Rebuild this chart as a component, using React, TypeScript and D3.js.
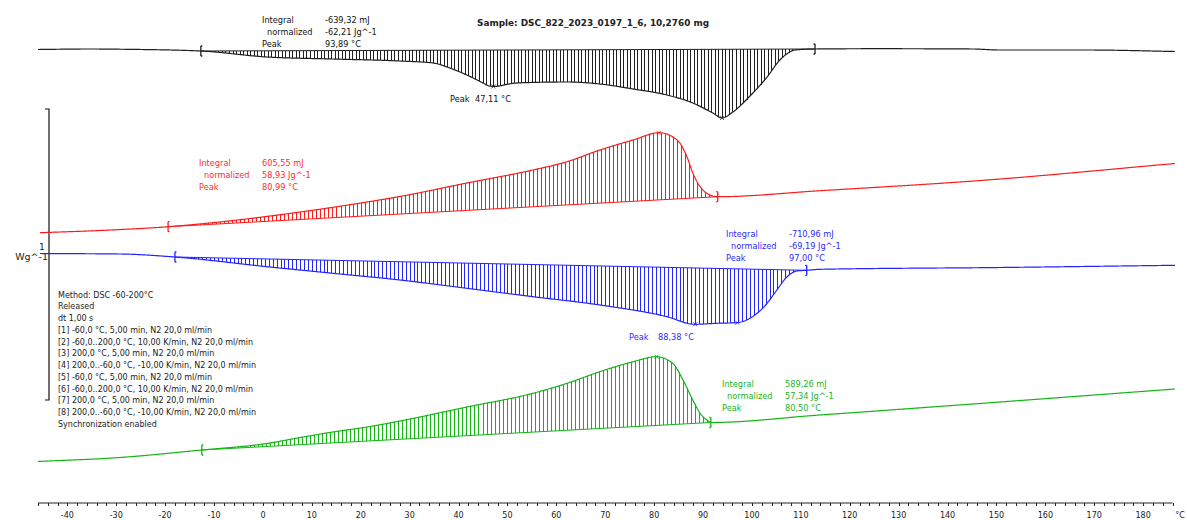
import React from 'react';
import * as d3 from 'd3';

const W = 1187;
const H = 520;

// Heat flow curves: [temperature °C, heat flow W/g incl. display offset]
const heating1: [number, number][] = [
  [-46.0, 1.2045], [-35.4, 1.2062], [-28.2, 1.2052], [-12.7, 1.1993], [0.8, 1.1787],
  [14.3, 1.1718], [28.0, 1.1649], [34.8, 1.1581], [38.2, 1.1409], [41.7, 1.1168],
  [45.0, 1.0893], [46.0, 1.0808], [47.1, 1.0773], [48.3, 1.079], [49.9, 1.0849],
  [52.6, 1.09], [62.2, 1.0928], [68.9, 1.0859], [75.7, 1.0687], [82.6, 1.0481],
  [87.9, 1.0206], [92.0, 0.9863], [93.9, 0.9691], [96.1, 0.9897], [99.6, 1.0447],
  [103.1, 1.11], [105.7, 1.1684], [107.4, 1.1924], [108.8, 1.2027], [112.9, 1.2062],
  [125.6, 1.2072], [145.2, 1.2062], [150.7, 1.2027], [169.1, 1.2027], [186.5, 1.1976],
];

const cooling1: [number, number][] = [
  [-45.6, 0.5749], [-33.3, 0.5825], [-19.4, 0.5955], [-6.1, 0.6168], [7.6, 0.646],
  [21.3, 0.6804], [28.0, 0.6993], [41.7, 0.7457], [55.2, 0.7904], [62.2, 0.8189],
  [68.9, 0.8591], [75.7, 0.8935], [81.0, 0.9186], [84.7, 0.8935], [86.7, 0.8361],
  [87.9, 0.7801], [89.4, 0.733], [90.8, 0.7103], [93.0, 0.6986], [113.9, 0.7192],
  [148.1, 0.756], [186.5, 0.8127],
];

const heating2: [number, number][] = [
  [-45.6, 0.5034], [-29.2, 0.5017], [-18.0, 0.4914], [0.8, 0.4581], [14.3, 0.4354],
  [28.0, 0.4124], [41.7, 0.3838], [55.2, 0.355], [68.9, 0.3265], [82.6, 0.2863],
  [88.3, 0.2601], [92.8, 0.2636], [96.9, 0.2656], [99.6, 0.2808], [103.1, 0.3323],
  [105.1, 0.378], [107.2, 0.4237], [109.2, 0.4433], [111.2, 0.4457], [113.9, 0.4491],
  [150.7, 0.4553], [186.5, 0.4629],
];

const cooling2: [number, number][] = [
  [-46.0, -0.2113], [-29.2, -0.1976], [-12.5, -0.1718], [0.8, -0.1495], [7.6, -0.1289],
  [14.3, -0.11], [21.3, -0.0928], [28.0, -0.0722], [41.7, -0.0241], [55.2, 0.023],
  [62.2, 0.0574], [68.9, 0.0973], [75.7, 0.1316], [80.4, 0.1488], [83.8, 0.1261],
  [85.9, 0.0687], [87.9, 0.0], [89.4, -0.0457], [90.8, -0.0687], [91.6, -0.0773],
  [113.9, -0.0515], [150.7, -0.0069], [186.5, 0.0378],
];

// Integration limits (°C)
const heating1Limits = [-12.7, 112.9];
const cooling1Limits = [-19.4, 93.0];
const heating2Limits = [-18.0, 111.2];
const cooling2Limits = [-12.5, 91.6];

// Peak temperatures (°C)
const heating1Peaks = [47.11, 93.89];
const cooling1Peaks = [80.99];
const heating2Peaks = [88.38, 97.0];
const cooling2Peaks = [80.5];

// Evaluation results
const resultNames = ['Integral', 'normalized', 'Peak'];
const heating1Results = ['-639,32 mJ', '-62,21 Jg^-1', '93,89 °C'];
const cooling1Results = ['605,55 mJ', '58,93 Jg^-1', '80,99 °C'];
const heating2Results = ['-710,96 mJ', '-69,19 Jg^-1', '97,00 °C'];
const cooling2Results = ['589,26 mJ', '57,34 Jg^-1', '80,50 °C'];

const methodLines = [
  'Method: DSC -60-200°C',
  'Released',
  'dt 1,00 s',
  '[1] -60,0 °C, 5,00 min, N2 20,0 ml/min',
  '[2] -60,0..200,0 °C, 10,00 K/min, N2 20,0 ml/min',
  '[3] 200,0 °C, 5,00 min, N2 20,0 ml/min',
  '[4] 200,0..-60,0 °C, -10,00 K/min, N2 20,0 ml/min',
  '[5] -60,0 °C, 5,00 min, N2 20,0 ml/min',
  '[6] -60,0..200,0 °C, 10,00 K/min, N2 20,0 ml/min',
  '[7] 200,0 °C, 5,00 min, N2 20,0 ml/min',
  '[8] 200,0..-60,0 °C, -10,00 K/min, N2 20,0 ml/min',
  'Synchronization enabled',
];

const sampleTitle = 'Sample: DSC_822_2023_0197_1_6, 10,2760 mg';
const xDomain = [-46, 186];
const xLabelValues = d3.range(-40, 181, 10);
const xMinorValues = d3.range(-46, 187, 2);

// Monotone cubic (Steffen) interpolation through the measured points
function monotone(pts: [number, number][]) {
  const n = pts.length;
  const xs = pts.map((p) => p[0]);
  const ys = pts.map((p) => p[1]);
  const h: number[] = [];
  const s: number[] = [];
  for (let i = 0; i < n - 1; i++) {
    h.push(xs[i + 1] - xs[i]);
    s.push((ys[i + 1] - ys[i]) / (xs[i + 1] - xs[i]));
  }
  const m: number[] = new Array(n).fill(0);
  m[0] = s[0];
  m[n - 1] = s[n - 2];
  for (let i = 1; i < n - 1; i++) {
    const p = (s[i - 1] * h[i] + s[i] * h[i - 1]) / (h[i - 1] + h[i]);
    m[i] =
      (Math.sign(s[i - 1]) + Math.sign(s[i])) *
      Math.min(Math.abs(s[i - 1]), Math.abs(s[i]), 0.5 * Math.abs(p));
  }
  const bis = d3.bisector((d: number) => d).right;
  return (x: number) => {
    let i = bis(xs, x) - 1;
    i = Math.max(0, Math.min(n - 2, i));
    const hh = h[i];
    const t = (x - xs[i]) / hh;
    const t2 = t * t;
    const t3 = t2 * t;
    return (
      (2 * t3 - 3 * t2 + 1) * ys[i] +
      (t3 - 2 * t2 + t) * hh * m[i] +
      (-2 * t3 + 3 * t2) * ys[i + 1] +
      (t3 - t2) * hh * m[i + 1]
    );
  };
}

type Curve = {
  key: string;
  data: [number, number][];
  limits: number[];
  peaks: number[];
  color: string;
  step: number;
};

const curves: Curve[] = [
  { key: 'h1', data: heating1, limits: heating1Limits, peaks: heating1Peaks, color: '#202020', step: 0.72 },
  { key: 'c1', data: cooling1, limits: cooling1Limits, peaks: cooling1Peaks, color: '#ff1a1a', step: 0.82 },
  { key: 'h2', data: heating2, limits: heating2Limits, peaks: heating2Peaks, color: '#2424ff', step: 0.8 },
  { key: 'c2', data: cooling2, limits: cooling2Limits, peaks: cooling2Peaks, color: '#14b414', step: 0.82 },
];

export default function App() {
  const x = d3.scaleLinear().domain(xDomain).range([38, 1172.5]);
  const y = d3.scaleLinear().domain([0, 1]).range([400, 109]);
  const line = d3
    .line<[number, number]>()
    .x((d) => x(d[0]))
    .y((d) => y(d[1]));

  const renderCurve = (c: Curve) => {
    const f = monotone(c.data);
    const t0 = c.data[0][0];
    const t1 = c.data[c.data.length - 1][0];
    const samples: [number, number][] = d3
      .range(t0, t1, 0.2)
      .concat([t1])
      .map((t) => [t, f(t)] as [number, number]);
    const [lo, hi] = c.limits;
    const flo = f(lo);
    const fhi = f(hi);
    const base = (t: number) => flo + ((t - lo) / (hi - lo)) * (fhi - flo);
    const hatchT = d3.range(lo + c.step, hi, c.step);
    return (
      <g key={c.key}>
        <g shapeRendering="crispEdges" stroke={c.color} strokeWidth={1}>
          {hatchT.map((t, i) => {
            const px = Math.round(x(t)) + 0.5;
            return <line key={i} x1={px} x2={px} y1={y(base(t))} y2={y(f(t))} />;
          })}
        </g>
        <line x1={x(lo)} x2={x(hi)} y1={y(flo)} y2={y(fhi)} stroke={c.color} strokeWidth={1} />
        <path d={line(samples) || ''} fill="none" stroke={c.color} strokeWidth={1.2} />
        {[lo, hi].map((t, i) => {
          const px = x(t);
          const py = y(f(t));
          const dir = i === 0 ? 1 : -1;
          return (
            <path
              key={'lim' + i}
              d={`M${px},${py - 5}L${px},${py + 5}M${px},${py - 5}l${dir * 1.5},0M${px},${py + 5}l${dir * 1.5},0`}
              stroke={c.color}
              strokeWidth={1.3}
              fill="none"
            />
          );
        })}
        {c.peaks.map((t, i) => {
          const px = x(t);
          const py = y(f(t));
          return (
            <path
              key={'pk' + i}
              d={`M${px - 2},${py - 2}L${px + 2},${py + 2}M${px - 2},${py + 2}L${px + 2},${py - 2}`}
              stroke={c.color}
              strokeWidth={0.8}
              fill="none"
            />
          );
        })}
      </g>
    );
  };

  const resultBlock = (
    vals: string[],
    lx: number,
    vx: number,
    by: number,
    color: string,
    key: string
  ) => (
    <g key={key} fill={color} fontSize={8.2}>
      {resultNames.map((n, i) => (
        <text key={'n' + i} x={i === 1 ? lx + 5 : lx} y={by + i * 12}>
          {n}
        </text>
      ))}
      {vals.map((v, i) => (
        <text key={'v' + i} x={vx} y={by + i * 12}>
          {v}
        </text>
      ))}
    </g>
  );

  const axisY = 503;

  return (
    <svg
      width={W}
      height={H}
      viewBox={`0 0 ${W} ${H}`}
      style={{ position: 'absolute', left: 0, top: 0, background: '#fff' }}
      fontFamily="'DejaVu Sans', Verdana, sans-serif"
    >
      <rect x={0} y={0} width={W} height={H} fill="#fff" />

      <text x={477} y={25.5} fontSize={8.9} fontWeight="bold" fill="#222">
        {sampleTitle}
      </text>

      {/* 1 W/g scale bar */}
      <path
        d={`M45,${y(1)}L49,${y(1)}L49,${y(0)}L45,${y(0)}`}
        fill="none"
        stroke="#111"
        strokeWidth={1.2}
      />
      <text x={39} y={250} fontSize={9} fill="#222">
        1
      </text>
      <text x={48} y={260} fontSize={9.5} fill="#222" textAnchor="end">
        Wg^-1
      </text>

      {curves.map(renderCurve)}

      {resultBlock(heating1Results, 262, 325, 22.5, '#111', 'r1')}
      {resultBlock(cooling1Results, 199, 262, 166.3, '#ff2a2a', 'r2')}
      {resultBlock(heating2Results, 726, 789, 236.5, '#2a2aff', 'r3')}
      {resultBlock(cooling2Results, 722, 785, 386.5, '#22b422', 'r4')}

      <g fontSize={8.2}>
        <text x={450} y={101.7} fill="#111">Peak</text>
        <text x={475} y={101.7} fill="#111">{'47,11 °C'}</text>
        <text x={629} y={340} fill="#2a2aff">Peak</text>
        <text x={658} y={340} fill="#2a2aff">{'88,38 °C'}</text>
      </g>

      <g fontSize={8} fill="#222">
        {methodLines.map((l, i) => (
          <text key={i} x={58} y={297.5 + i * 11.75}>
            {l}
          </text>
        ))}
      </g>

      {/* temperature axis */}
      <g>
        <line x1={x(xDomain[0])} x2={x(xDomain[1])} y1={axisY} y2={axisY} stroke="#222" strokeWidth={1} />
        <g shapeRendering="crispEdges" stroke="#222">
          {xMinorValues.map((t) => (
            <line key={t} x1={Math.round(x(t)) + 0.5} x2={Math.round(x(t)) + 0.5} y1={axisY} y2={axisY + 3} />
          ))}
        </g>
        <g fontSize={8} fill="#222" textAnchor="middle">
          {xLabelValues.map((t) => (
            <text key={t} x={x(t)} y={518}>
              {t}
            </text>
          ))}
          <text x={1180} y={518}>°C</text>
        </g>
      </g>
    </svg>
  );
}
